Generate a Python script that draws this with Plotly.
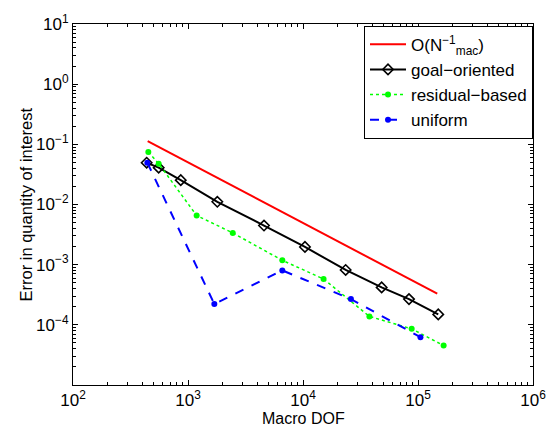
import plotly.graph_objects as go

# Data
ref_x = [446, 147000]
ref_y = [0.1135, 0.000329]

goal_x = [437, 556, 865, 1799, 4580, 10400, 23500, 48300, 83500, 150000]
goal_y = [0.0495, 0.0409, 0.0254, 0.0111, 0.00447, 0.00197, 0.000816, 0.000419, 0.000268, 0.000149]

resid_x = [452, 556, 1189, 2450, 6610, 15100, 37800, 88100, 167000]
resid_y = [0.0745, 0.0477, 0.00656, 0.00337, 0.00118, 0.000578, 0.000138, 8.58e-5, 4.52e-5]

unif_x = [443, 1694, 6610, 26100, 105000]
unif_y = [0.0496, 0.000221, 0.000803, 0.000268, 6.24e-5]

x_tick_exp = [2, 3, 4, 5, 6]
y_tick_exp = [-4, -3, -2, -1, 0, 1]

x_title = "Macro DOF"
y_title = "Error in quantity of interest"

font_family = "Liberation Sans, Arial, sans-serif"


def pow_label(e):
    s = str(e).replace("-", "\u2212")
    return f"10<sup>{s}</sup>"


def minor_vals(lo, hi):
    vals = []
    for e in range(lo, hi):
        for m in range(2, 10):
            vals.append(m * 10.0 ** e)
    return vals


fig = go.Figure()
fig.add_trace(go.Scatter(x=ref_x, y=ref_y, mode="lines",
                         line=dict(color="#ff0000", width=2),
                         name="O(N<sup>\u22121</sup><sub>mac</sub>)"))
fig.add_trace(go.Scatter(x=goal_x, y=goal_y, mode="lines+markers",
                         line=dict(color="black", width=2),
                         marker=dict(symbol="diamond-open", size=8, color="black",
                                     line=dict(width=1.6)),
                         name="goal\u2212oriented"))
fig.add_trace(go.Scatter(x=resid_x, y=resid_y, mode="lines+markers",
                         line=dict(color="#00ff00", width=1.5, dash="dot"),
                         marker=dict(symbol="circle", size=6, color="#00ff00"),
                         name="residual\u2212based"))
fig.add_trace(go.Scatter(x=unif_x, y=unif_y, mode="lines+markers",
                         line=dict(color="#0000ff", width=2, dash="dash"),
                         marker=dict(symbol="circle", size=6, color="#0000ff"),
                         name="uniform"))

axis_common = dict(
    type="log", showgrid=False, zeroline=False, automargin=False,
    showline=True, linecolor="black", linewidth=1, mirror="ticks",
    ticks="inside", ticklen=5, tickcolor="black",
    tickfont=dict(size=17, color="black", family=font_family),
)

fig.update_xaxes(
    range=[2, 6],
    tickvals=[10.0 ** e for e in x_tick_exp],
    ticktext=[pow_label(e) for e in x_tick_exp],
    ticklabeloverflow="allow",
    minor=dict(ticks="inside", ticklen=3, tickcolor="black", showgrid=False,
               tickvals=minor_vals(2, 6)),
    **axis_common)
fig.update_yaxes(
    range=[-5, 1],
    tickvals=[10.0 ** e for e in y_tick_exp],
    ticktext=[pow_label(e) for e in y_tick_exp],
    minor=dict(ticks="inside", ticklen=3, tickcolor="black", showgrid=False,
               tickvals=minor_vals(-5, 1)),
    **axis_common)

W, H = 547, 433
ML, MR, MT, MB = 73, 14, 24, 48
pw, ph = W - ML - MR, H - MT - MB

fig.add_annotation(text=x_title, xref="paper", yref="paper",
                   x=0.5, y=-(418 - (H - MB)) / ph, xanchor="center", yanchor="middle",
                   showarrow=False, font=dict(size=16, color="black", family=font_family))
fig.add_annotation(text=y_title, xref="paper", yref="paper",
                   x=(25 - ML) / pw, y=0.5, xanchor="center", yanchor="middle",
                   textangle=-90, showarrow=False,
                   font=dict(size=16.5, color="black", family=font_family))

fig.update_layout(
    width=W, height=H,
    margin=dict(l=ML, r=MR, t=MT, b=MB),
    paper_bgcolor="white", plot_bgcolor="white",
    font=dict(family=font_family, size=16, color="black"),
    legend=dict(x=1, y=0.995, xanchor="right", yanchor="top",
                bordercolor="black", borderwidth=1, bgcolor="white",
                itemwidth=36,
                font=dict(size=17, color="black", family=font_family)),
)

fig.write_html("out.html",
               config={"displayModeBar": False},
               post_script="document.body.style.margin='0';document.body.style.padding='0';")
